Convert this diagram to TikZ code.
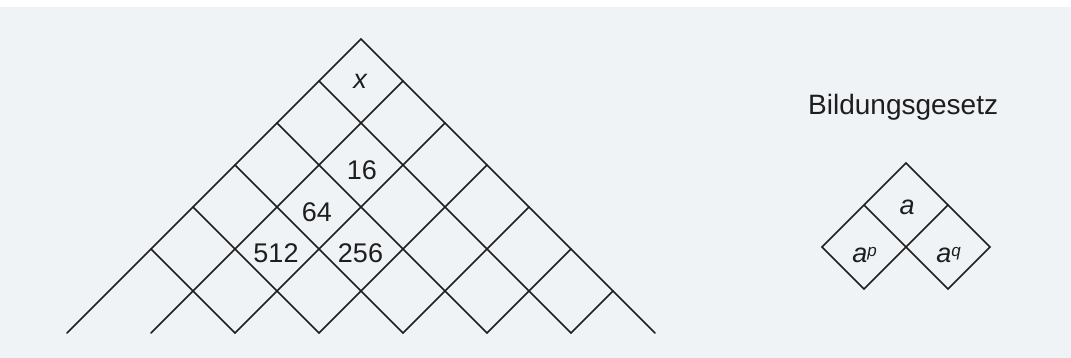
\documentclass[tikz,border=0pt]{standalone}
\usepackage{fontspec}
\setmainfont{Liberation Sans}
\definecolor{bg}{RGB}{240,243,245}
\definecolor{ink}{RGB}{30,30,30}
\begin{document}
\begin{tikzpicture}[x=1pt,y=-1pt,
  gridline/.style={draw=ink,line width=1.7pt,line cap=round,line join=miter},
  numlabel/.style={text=ink,inner sep=0pt,font=\fontsize{27}{27}\selectfont},
  varlabel/.style={text=ink,inner sep=0pt,font=\fontsize{27}{27}\selectfont\itshape},
  titlelabel/.style={text=ink,inner sep=0pt,font=\fontsize{28}{28}\selectfont}]
\useasboundingbox (0,0) rectangle (1071,358);
\fill[white] (0,0) rectangle (1071,358);
\fill[bg] (0,7) rectangle (1071,358);
% main pyramid
\coordinate (apex) at (361,39);
\coordinate (bl) at (67,333);
\coordinate (br) at (655,333);
\draw[gridline] (bl) -- (apex) -- (br);
\foreach \k in {1,...,5}{
  \draw[gridline] ({361-42*\k},{39+42*\k}) -- ({655-84*\k},333);
}
\foreach \k in {1,...,6}{
  \draw[gridline] ({361+42*\k},{39+42*\k}) -- ({67+84*\k},333);
}
\node[varlabel] (nx) at (360,81.5) {x};
\node[numlabel] (n16) at (362,170) {16};
\node[numlabel] (n64) at (317,212) {64};
\node[numlabel] (n512) at (276,253) {512};
\node[numlabel] (n256) at (360.5,253) {256};
% rule
\node[titlelabel,anchor=base west] (title) at (808,114.5) {Bildungsgesetz};
\coordinate (T) at (906,163);
\coordinate (L1) at (864,205);
\coordinate (R1) at (948,205);
\coordinate (L2) at (822,247);
\coordinate (C) at (906,247);
\coordinate (R2) at (990,247);
\coordinate (B1) at (864,289);
\coordinate (B2) at (948,289);
\draw[gridline] (L2) -- (T) -- (R2) -- (B2) -- (L1);
\draw[gridline] (R1) -- (B1) -- (L2);
\node[varlabel,anchor=base] (na) at (907,215) {a};
\node[varlabel,anchor=base] (nap) at (864.5,262) {a\raisebox{6pt}{\fontsize{17}{17}\selectfont\itshape p}};
\node[varlabel,anchor=base] (naq) at (948.5,262) {a\raisebox{6pt}{\fontsize{17}{17}\selectfont\itshape q}};
\end{tikzpicture}
\end{document}
